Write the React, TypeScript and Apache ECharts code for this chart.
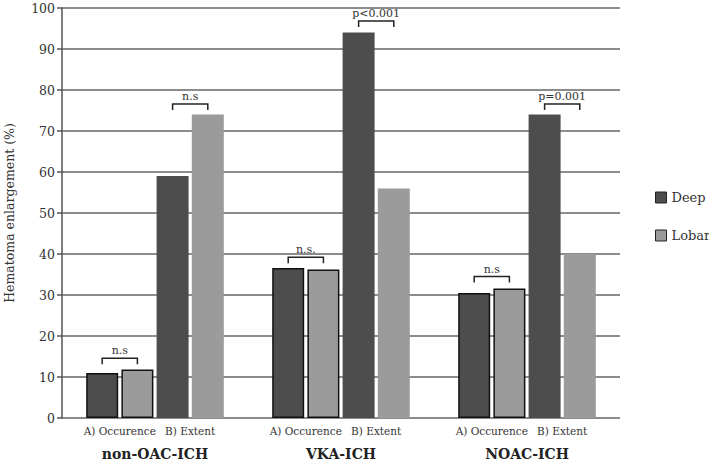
import React, { useEffect, useRef } from "react";
import * as echarts from "echarts";

const groups = ["non-OAC-ICH", "VKA-ICH", "NOAC-ICH"];
const subLabels = ["A) Occurence", "B) Extent"];
const deepOccurrence = [11, 36.6, 30.5];
const lobarOccurrence = [11.8, 36.2, 31.6];
const deepExtent = [59, 94, 74];
const lobarExtent = [74, 56, 40];
// [group index, sub index (0 = occurrence, 1 = extent), bracket height, text]
const brackets: [number, number, number, string][] = [
  [0, 0, 14.6, "n.s"],
  [0, 1, 76.6, "n.s"],
  [1, 0, 39.2, "n.s."],
  [1, 1, 96.8, "p<0.001"],
  [2, 0, 34.5, "n.s"],
  [2, 1, 76.6, "p=0.001"],
];
const yTicks = { min: 0, max: 100, interval: 10 };

const FONT = "DejaVu Serif";
const BW = 32;
const GAP_PCT = 10;
const GAP = (BW * GAP_PCT) / 100;
const DEEP = "#4d4d4d";
const LOBAR = "#9b9b9b";

export default function App() {
  const ref = useRef<HTMLDivElement>(null);
  useEffect(() => {
    document.body.style.margin = "0";
    const chart = echarts.init(ref.current!, null, { renderer: "svg" });
    const subLabel = (text: string) => ({
      show: true,
      position: "bottom",
      distance: 7,
      offset: [(BW + GAP) / 2, 0],
      formatter: text,
      fontFamily: FONT,
      fontSize: 10.5,
      color: "#333",
    });
    const bar = (name: string, data: number[], color: string, border: boolean, label?: any) => ({
      type: "bar",
      name,
      data,
      barWidth: BW,
      barGap: GAP_PCT + "%",
      itemStyle: {
        color,
        borderColor: border ? "#111" : color,
        borderWidth: border ? 1.5 : 0,
      },
      label: label || { show: false },
      z: 3,
    });
    chart.setOption({
      animation: false,
      backgroundColor: "#fff",
      grid: {
        left: 62,
        right: 89,
        top: 8,
        bottom: 46,
        containLabel: false,
        outerBoundsMode: "none",
      },
      legend: {
        orient: "vertical",
        left: 650,
        top: 186,
        itemWidth: 11,
        itemHeight: 11,
        itemGap: 25,
        itemTextGap: 7,
        icon: "rect",
        textStyle: { fontFamily: FONT, fontSize: 13, color: "#333" },
        data: [
          { name: "Deep", itemStyle: { color: DEEP, borderColor: "#222", borderWidth: 1 } },
          { name: "Lobar", itemStyle: { color: LOBAR, borderColor: "#222", borderWidth: 1 } },
        ],
      },
      xAxis: {
        type: "category",
        data: groups,
        axisLine: { show: false },
        axisTick: { show: false },
        axisLabel: {
          margin: 29,
          fontFamily: FONT,
          fontSize: 14,
          fontWeight: "bold",
          color: "#222",
        },
      },
      yAxis: {
        type: "value",
        min: yTicks.min,
        max: yTicks.max,
        interval: yTicks.interval,
        name: "Hematoma enlargement (%)",
        nameLocation: "middle",
        nameGap: 46,
        nameTextStyle: { fontFamily: FONT, fontSize: 12.5, color: "#333" },
        axisLine: { show: true, lineStyle: { color: "#555", width: 1.5 } },
        axisTick: { show: true, length: 5, lineStyle: { color: "#555", width: 1.5 } },
        axisLabel: { margin: 7, fontFamily: FONT, fontSize: 12.5, color: "#333" },
        splitLine: { show: true, lineStyle: { color: "#666", width: 1.5 } },
      },
      series: [
        bar("Deep", deepOccurrence, DEEP, true, subLabel(subLabels[0])),
        bar("Lobar", lobarOccurrence, LOBAR, true),
        bar("Deep", deepExtent, DEEP, false, subLabel(subLabels[1])),
        bar("Lobar", lobarExtent, LOBAR, false),
        {
          type: "custom",
          name: "brackets",
          data: brackets.map((b) => [b[0], b[1], b[2], b[3]]),
          encode: { x: 0, y: 2 },
          itemStyle: { color: "#333" },
          z: 5,
          renderItem: (params: any, api: any) => {
            const gi = api.value(0);
            const si = api.value(1);
            const yv = api.value(2);
            const text = brackets[params.dataIndex][3];
            const p = api.coord([gi, yv]);
            const total = 4 * BW + 3 * GAP;
            const left = p[0] - total / 2;
            const x1 = left + BW / 2 + si * 2 * (BW + GAP);
            const x2 = x1 + BW + GAP;
            const y = p[1];
            return {
              type: "group",
              children: [
                {
                  type: "polyline",
                  shape: { points: [[x1, y + 6], [x1, y], [x2, y], [x2, y + 6]] },
                  style: { stroke: "#222", lineWidth: 1.5, fill: "none" },
                },
                {
                  type: "text",
                  x: (x1 + x2) / 2,
                  y: y - 2,
                  style: {
                    text,
                    fontFamily: FONT,
                    fontSize: 11,
                    fill: "#333",
                    align: "center",
                    verticalAlign: "bottom",
                  },
                },
              ],
            };
          },
        },
      ],
    });
    return () => chart.dispose();
  }, []);
  return <div ref={ref} style={{ width: 709, height: 464 }} />;
}
